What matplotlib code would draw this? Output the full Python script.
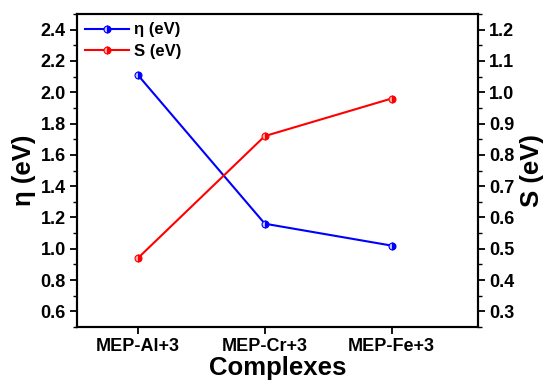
import numpy as np
import matplotlib.pyplot as plt
from matplotlib.ticker import MultipleLocator

plt.rcParams['font.family'] = ['Liberation Sans', 'DejaVu Sans']
plt.rcParams['font.weight'] = 'bold'

# datos
complexes = ['MEP-Al+3', 'MEP-Cr+3', 'MEP-Fe+3']
eta = [2.11, 1.16, 1.02]
soft = [0.47, 0.86, 0.98]

x = np.arange(1, len(complexes) + 1)

fig = plt.figure(figsize=(5.46, 3.81), dpi=100)
ax = fig.add_axes([77 / 546, 1 - 327 / 381, 401 / 546, 313 / 381])
ax2 = ax.twinx()

l1, = ax.plot(x, eta, color='#0000ff', linewidth=1.5, marker='o', markersize=5,
              fillstyle='right', markerfacecoloralt='#c8c8ff', markeredgewidth=0.8, label='η (eV)')
l2, = ax2.plot(x, soft, color='#ff0000', linewidth=1.5, marker='o', markersize=5,
               fillstyle='right', markerfacecoloralt='#ffb0b0', markeredgewidth=0.8, label='S (eV)')

ax.set_xlim(0.52, 3.68)
ax.set_ylim(0.5, 2.5)
ax2.set_ylim(0.25, 1.25)

ax.set_xticks(x)
ax.set_xticklabels(complexes)
ax.yaxis.set_minor_locator(MultipleLocator(0.1))
ax2.yaxis.set_minor_locator(MultipleLocator(0.05))
ax.set_yticks(np.arange(0.6, 2.41, 0.2))
ax2.set_yticks(np.arange(0.3, 1.21, 0.1))

for a in (ax, ax2):
    for s in a.spines.values():
        s.set_linewidth(1.5)
    a.tick_params(axis='both', which='major', length=5, width=1.3, labelsize=13, pad=3)
    a.tick_params(axis='both', which='minor', length=3, width=1.0)

ax.set_xlabel('Complexes', fontsize=18.5, fontweight='bold', labelpad=1)
ax.set_ylabel('η (eV)', fontsize=18.5, fontweight='bold', labelpad=3)
ax2.set_ylabel('S (eV)', fontsize=18.5, fontweight='bold', rotation=90, labelpad=4)

ax.legend(handles=[l1, l2], loc='upper left', frameon=False, fontsize=12,
          handlelength=2.6, borderaxespad=0.2, labelspacing=0.4, handletextpad=0.3,
          borderpad=0.3)

plt.savefig('out.png', dpi=100)
